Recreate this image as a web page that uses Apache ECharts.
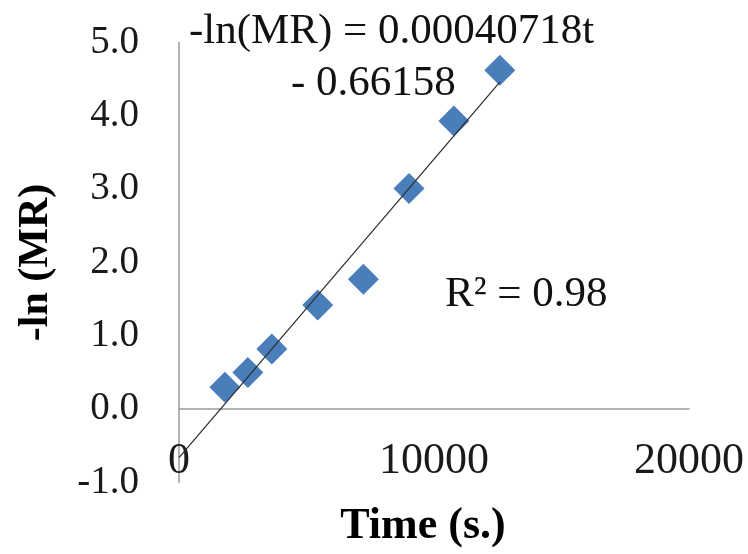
<!DOCTYPE html>
<html>
<head>
<meta charset="utf-8">
<script src="https://cdn.jsdelivr.net/npm/echarts@6/dist/echarts.min.js"></script>
<style>
html,body{margin:0;padding:0;background:#fff;}
#chart{width:748px;height:554px;}
</style>
</head>
<body>
<div id="chart"></div>
<script>
// Data
var timeValues = [1800, 2700, 3640, 5440, 7230, 9020, 10780, 12580];
var lnMRValues = [0.30, 0.50, 0.82, 1.42, 1.77, 3.01, 3.93, 4.62];
var trendSlope = 0.00040718;
var trendIntercept = -0.66158;
var equationLine1 = '-ln(MR) = 0.00040718t';
var equationLine2 = '- 0.66158';
var r2Text = 'R\u00B2 = 0.98';
var xTitle = 'Time (s.)';
var yTitle = '-ln (MR)';

var points = timeValues.map(function (t, i) { return [t, lnMRValues[i]]; });
var tMax = Math.max.apply(null, timeValues);
var trend = [[0, trendIntercept], [tMax, trendSlope * tMax + trendIntercept]];

var serif = '"Liberation Serif", "Times New Roman", serif';
var chart = echarts.init(document.getElementById('chart'), null, {renderer: 'canvas'});
chart.setOption({
  animation: false,
  backgroundColor: '#ffffff',
  grid: {left: 179, top: 42.5, width: 510, height: 440, containLabel: false, outerBoundsMode: 'none'},
  xAxis: {
    type: 'value', min: 0, max: 20000, interval: 10000,
    axisLine: {onZero: true, lineStyle: {color: '#9a9a9a', width: 1.5}},
    axisTick: {show: false},
    splitLine: {show: false},
    axisLabel: {margin: -43, color: '#1a1a1a', fontFamily: serif, fontSize: 44,
      formatter: function (v) { return String(v); }},
    name: xTitle, nameLocation: 'middle', nameGap: 22,
    nameTextStyle: {fontFamily: serif, fontWeight: 'bold', fontSize: 44, color: '#000',
      padding: [0, 22, 0, 0]}
  },
  yAxis: {
    type: 'value', min: -1, max: 5, interval: 1,
    axisLine: {onZero: false, lineStyle: {color: '#9a9a9a', width: 1.5}},
    axisTick: {show: false},
    splitLine: {show: false},
    axisLabel: {margin: 40, color: '#1a1a1a', fontFamily: serif, fontSize: 39,
      formatter: function (v) { return v.toFixed(1); }},
    name: yTitle, nameLocation: 'middle', nameGap: 122, nameRotate: 90,
    nameTextStyle: {fontFamily: serif, fontWeight: 'bold', fontSize: 42, color: '#000'}
  },
  series: [
    {
      type: 'scatter', data: points, symbol: 'diamond', symbolSize: 31,
      itemStyle: {color: '#4a7ebb', opacity: 1}, z: 2
    },
    {
      type: 'line', data: trend, symbol: 'none', z: 3,
      lineStyle: {color: '#2b2b2b', width: 1.2}
    }
  ],
  graphic: [
    {type: 'text', left: 189, top: 10, z: 10,
      style: {text: equationLine1, font: '43px ' + serif, fill: '#111'}},
    {type: 'text', left: 291, top: 62, z: 10,
      style: {text: equationLine2, font: '43px ' + serif, fill: '#111'}},
    {type: 'text', left: 445, top: 273, z: 10,
      style: {text: r2Text, font: '43px ' + serif, fill: '#111'}}
  ]
});
</script>
</body>
</html>
